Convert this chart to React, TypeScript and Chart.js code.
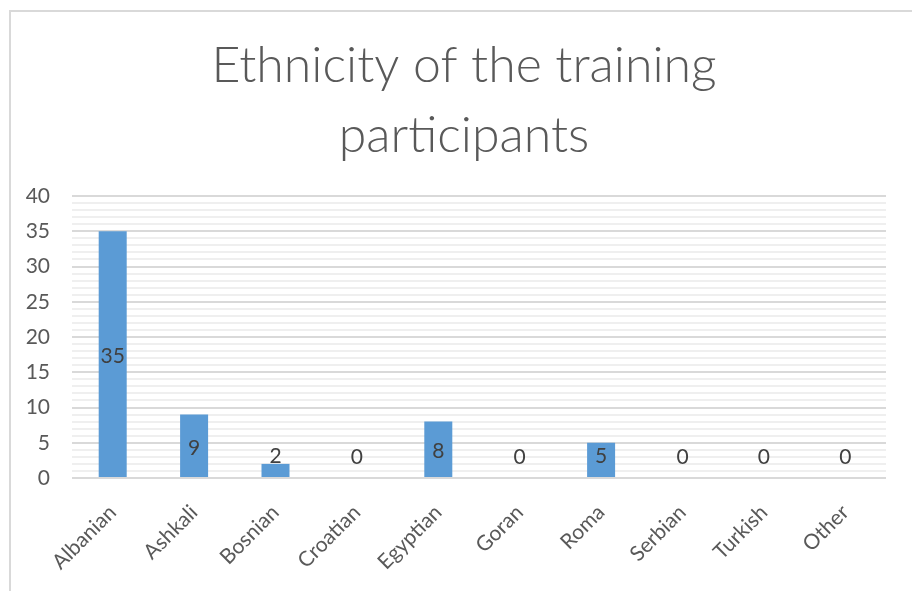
import React, { useEffect, useRef } from "react";
import { Chart, registerables } from "chart.js";

Chart.register(...registerables);

const categories = ["Albanian", "Ashkali", "Bosnian", "Croatian", "Egyptian", "Goran", "Roma", "Serbian", "Turkish", "Other"];
const participants = [35, 9, 2, 0, 8, 0, 5, 0, 0, 0];
const titleLines = ["Ethnicity of the training", "participants"];
const yMin = 0;
const yMax = 40;
const yMinorStep = 1;
const yMajorStep = 5;

const FONT = "Lato, 'Open Sans', sans-serif";

const framePlugin = {
  id: "frame",
  beforeDraw(chart: any) {
    const ctx = chart.ctx;
    ctx.save();
    ctx.fillStyle = "#ffffff";
    ctx.fillRect(0, 0, chart.width, chart.height);
    ctx.strokeStyle = "#d9d9d9";
    ctx.lineWidth = 2;
    ctx.beginPath();
    ctx.moveTo(10, chart.height + 5);
    ctx.lineTo(10, 11);
    ctx.lineTo(chart.width + 5, 11);
    ctx.stroke();
    ctx.restore();
  },
};

const titlePlugin = {
  id: "frameTitle",
  afterDraw(chart: any) {
    const ctx = chart.ctx;
    ctx.save();
    ctx.fillStyle = "#595959";
    ctx.font = `300 50px ${FONT}`;
    ctx.textAlign = "center";
    ctx.textBaseline = "alphabetic";
    const cx = (10 + chart.width + 6) / 2;
    titleLines.forEach((line, i) => {
      ctx.fillText(line, cx, 82 + i * 70);
    });
    ctx.restore();
  },
};

const labelPlugin = {
  id: "barLabels",
  afterDatasetsDraw(chart: any) {
    const ctx = chart.ctx;
    const meta = chart.getDatasetMeta(0);
    const data = chart.data.datasets[0].data;
    ctx.save();
    ctx.fillStyle = "#404040";
    ctx.font = `21px ${FONT}`;
    ctx.textAlign = "center";
    ctx.textBaseline = "middle";
    meta.data.forEach((bar: any, i: number) => {
      const center = (bar.y + bar.base) / 2;
      const ly = Math.min(center, bar.base - 23);
      ctx.fillText(String(data[i]), bar.x, ly + 2);
    });
    ctx.restore();
  },
};

export default function App() {
  const ref = useRef<HTMLCanvasElement>(null);
  useEffect(() => {
    if (!ref.current) return;
    document.body.style.margin = "0";
    const chart = new Chart(ref.current, {
      type: "bar",
      data: {
        labels: categories,
        datasets: [
          {
            data: participants,
            backgroundColor: "#5B9BD5",
            barPercentage: 0.344,
            categoryPercentage: 1,
          },
        ],
      },
      options: {
        animation: false,
        responsive: false,
        devicePixelRatio: 1,
        layout: { padding: { left: 0, right: 26, top: 196, bottom: 0 } },
        plugins: {
          legend: { display: false },
          tooltip: { enabled: false },
          title: { display: false },
        },
        scales: {
          x: {
            grid: { display: false },
            border: { display: false },
            ticks: {
              color: "#595959",
              font: { family: FONT, size: 21 },
              maxRotation: 45,
              minRotation: 45,
              autoSkip: false,
              padding: 14,
            },
            afterFit(scale: any) {
              scale.height = 113;
            },
          },
          y: {
            min: yMin,
            max: yMax,
            border: { display: false },
            grid: {
              drawTicks: false,
              color: (c: any) => (c.tick && c.tick.value % yMajorStep === 0 ? "#d9d9d9" : "#efefef"),
              lineWidth: 2,
            },
            ticks: {
              stepSize: yMinorStep,
              autoSkip: false,
              color: "#595959",
              font: { family: FONT, size: 21 },
              padding: 22,
              callback: (v: any) => (Number(v) % yMajorStep === 0 ? String(v) : ""),
            },
            afterFit(scale: any) {
              scale.width = 72;
            },
          },
        },
      },
      plugins: [framePlugin, titlePlugin, labelPlugin],
    });
    return () => chart.destroy();
  }, []);
  return (
    <div style={{ position: "fixed", left: 0, top: 0, width: 912, height: 591, background: "#fff" }}>
      <canvas ref={ref} width={912} height={591} style={{ display: "block", width: 912, height: 591 }} />
    </div>
  );
}
